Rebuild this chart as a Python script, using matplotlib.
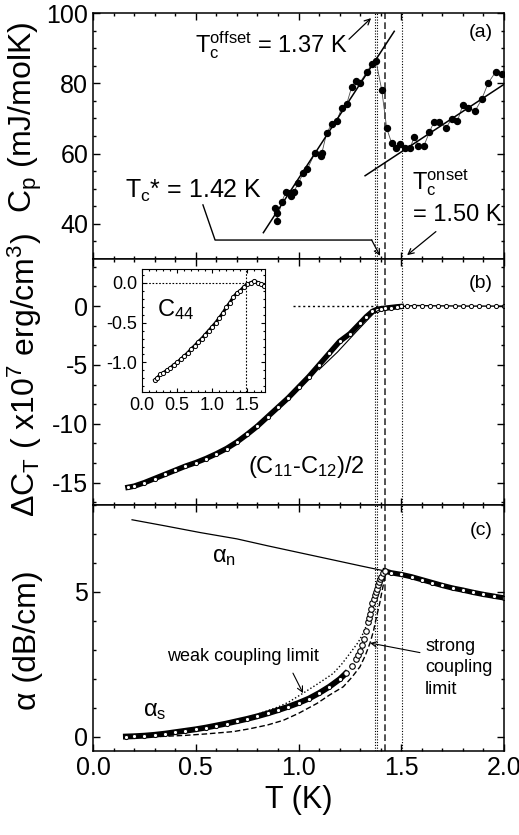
import matplotlib
matplotlib.use("Agg")
import matplotlib.pyplot as plt
from matplotlib.ticker import MultipleLocator, FormatStrFormatter

plt.rcParams['font.family'] = ['Liberation Sans', 'DejaVu Sans']
plt.rcParams['mathtext.fontset'] = 'custom'
plt.rcParams['mathtext.rm'] = 'Liberation Sans'
plt.rcParams['mathtext.it'] = 'Liberation Sans:italic'
plt.rcParams['axes.unicode_minus'] = False

# (a) specific heat
cp_T = [0.887, 0.897, 0.894, 0.918, 0.939, 0.959, 0.962, 0.978, 0.999, 1.024, 1.043,
        1.080, 1.108, 1.114, 1.137, 1.161, 1.186, 1.210, 1.234, 1.259, 1.280, 1.299,
        1.332, 1.356, 1.377, 1.405, 1.429, 1.453, 1.474, 1.494, 1.518, 1.543, 1.564,
        1.583, 1.611, 1.637, 1.659, 1.685, 1.718, 1.745, 1.773, 1.799, 1.826, 1.859,
        1.891, 1.924, 1.959, 1.989]
cp = [44.5, 43.0, 40.7, 46.1, 49.2, 48.8, 47.8, 49.2, 51.6, 54.5, 55.6,
      60.2, 59.2, 60.2, 65.9, 68.3, 69.2, 73.0, 74.0, 79.0, 80.7, 80.2,
      83.2, 85.4, 86.4, 78.1, 67.3, 63.0, 61.6, 62.6, 61.6, 61.6, 64.8,
      62.3, 62.3, 66.1, 69.0, 69.0, 67.3, 69.9, 69.2, 73.7, 73.0, 72.1,
      75.4, 80.2, 83.2, 82.6]
fit1_T = [0.829, 1.466]
fit1 = [37.5, 94.8]
fit2_T = [1.324, 2.005]
fit2 = [53.7, 79.9]

# (b) transverse elastic constant (C11-C12)/2
ct_T = [0.17, 0.20, 0.25, 0.30, 0.35, 0.40, 0.45, 0.50, 0.55, 0.60, 0.65, 0.70, 0.75,
        0.80, 0.85, 0.90, 0.95, 1.00, 1.05, 1.10, 1.15, 1.20, 1.25, 1.30, 1.33, 1.36,
        1.38, 1.40, 1.42, 1.45, 1.48, 1.50, 1.53, 1.56, 1.60, 1.64, 1.68, 1.72, 1.76,
        1.80, 1.84, 1.88, 1.92, 1.96, 2.00]
ct = [-15.4, -15.3, -15.0, -14.65, -14.3, -13.95, -13.6, -13.3, -12.95, -12.55, -12.1,
      -11.55, -10.9, -10.2, -9.4, -8.6, -7.8, -6.9, -6.0, -5.0, -4.0, -3.0, -2.35,
      -1.45, -0.9, -0.45, -0.3, -0.22, -0.18, -0.12, -0.06, -0.03, 0.0, 0.05, 0.04,
      0.03, 0.02, 0.02, 0.01, 0.0, 0.0, 0.0, 0.0, 0.0, 0.0]
ct_fit_T = [1.10, 1.19, 1.28, 1.37, 1.39]
ct_fit = [-5.4, -3.9, -2.2, -0.55, -0.35]

# inset C44
c44_T = [0.18, 0.22, 0.26, 0.30, 0.35, 0.40, 0.45, 0.50, 0.55, 0.60, 0.65, 0.70, 0.75,
         0.80, 0.85, 0.90, 0.95, 1.00, 1.05, 1.10, 1.15, 1.20, 1.25, 1.30, 1.35, 1.40,
         1.45, 1.50, 1.55, 1.60, 1.65, 1.70, 1.73]
c44 = [-1.22, -1.19, -1.15, -1.13, -1.10, -1.07, -1.03, -1.00, -0.96, -0.92, -0.88,
       -0.83, -0.79, -0.74, -0.70, -0.65, -0.60, -0.55, -0.50, -0.44, -0.38, -0.31,
       -0.25, -0.18, -0.13, -0.10, -0.05, -0.02, 0.00, 0.02, 0.00, -0.02, -0.04]

# (c) ultrasonic attenuation
an_T = [0.19, 0.35, 0.52, 0.70, 0.85, 1.00, 1.17, 1.30, 1.42]
an = [7.49, 7.28, 7.05, 6.83, 6.59, 6.36, 6.10, 5.90, 5.72]
aN_T = [1.42, 1.45, 1.50, 1.55, 1.60, 1.65, 1.70, 1.75, 1.80, 1.85, 1.90, 1.95, 2.00]
aN = [5.72, 5.66, 5.60, 5.52, 5.42, 5.32, 5.22, 5.13, 5.06, 4.98, 4.91, 4.85, 4.79]
as_T = [0.16, 0.20, 0.25, 0.30, 0.35, 0.40, 0.45, 0.50, 0.55, 0.60, 0.65, 0.70, 0.75,
        0.80, 0.85, 0.90, 0.95, 1.00, 1.05, 1.10, 1.15, 1.20, 1.23, 1.26, 1.28, 1.29,
        1.30, 1.31, 1.32, 1.33, 1.34, 1.345, 1.35, 1.355, 1.36, 1.365, 1.37, 1.375,
        1.38, 1.385, 1.39, 1.395, 1.40, 1.41, 1.42]
as_ = [0.00, 0.01, 0.03, 0.06, 0.10, 0.15, 0.20, 0.25, 0.31, 0.38, 0.45, 0.53, 0.61,
       0.70, 0.80, 0.91, 1.03, 1.16, 1.31, 1.50, 1.72, 1.98, 2.18, 2.45, 2.68, 2.80,
       2.95, 3.15, 3.38, 3.65, 3.95, 4.10, 4.25, 4.42, 4.60, 4.75, 4.90, 5.00,
       5.10, 5.22, 5.35, 5.45, 5.52, 5.64, 5.72]
weak_T = [0.50, 0.60, 0.70, 0.80, 0.90, 0.95, 1.023, 1.10, 1.169, 1.21, 1.251, 1.29,
          1.315, 1.34, 1.356, 1.38, 1.397]
weak = [0.22, 0.38, 0.56, 0.77, 1.02, 1.18, 1.50, 1.85, 2.18, 2.50, 2.88, 3.25, 3.57,
        4.00, 4.38, 5.08, 5.54]
strong_T = [0.326, 0.45, 0.55, 0.683, 0.764, 0.85, 0.926, 1.0, 1.089, 1.15, 1.218,
            1.26, 1.299, 1.325, 1.348, 1.365, 1.38, 1.395, 1.405, 1.421, 1.425]
strong = [0.0, 0.04, 0.09, 0.17, 0.27, 0.40, 0.56, 0.80, 1.14, 1.43, 1.72, 2.05, 2.41,
          2.8, 3.23, 3.65, 4.15, 4.6, 4.97, 5.54, 5.7]

tc_dotted = [1.372, 1.383, 1.502]
tc_dashed = 1.421

fig = plt.figure(figsize=(5.19, 8.35), dpi=100)
L, W, H = 0.1792, 0.7919, 0.2946
ax_a = fig.add_axes([L, 0.6898, W, H])
ax_b = fig.add_axes([L, 0.3952, W, H])
ax_c = fig.add_axes([L, 0.1006, W, H])
ins = fig.add_axes([0.2736, 0.5305, 0.237, 0.1473])

for ax in (ax_a, ax_b, ax_c):
    ax.set_xlim(0, 2.0)
    ax.xaxis.set_major_locator(MultipleLocator(0.5))
    ax.xaxis.set_minor_locator(MultipleLocator(0.1))
    ax.tick_params(which='both', direction='in', top=True, right=True, labelsize=18, width=1)
    ax.tick_params(which='major', length=5)
    ax.tick_params(which='minor', length=2.5)
    for s in ax.spines.values():
        s.set_linewidth(1.1)
    for x in tc_dotted:
        ax.axvline(x, color='k', ls=(0, (1, 1.5)), lw=0.8)
    ax.axvline(tc_dashed, color='0.2', ls=(0, (4, 2)), lw=1.2)

ax_a.tick_params(labelbottom=False)
ax_b.tick_params(labelbottom=False)

# ---- (a)
ax_a.plot(cp_T, cp, '-', color='0.3', lw=0.6)
ax_a.plot(cp_T, cp, 'o', color='k', ms=4.3)
ax_a.plot(fit1_T, fit1, 'k-', lw=1.1)
ax_a.plot(fit2_T, fit2, 'k-', lw=1.1)
ax_a.set_ylim(30, 100)
ax_a.yaxis.set_major_locator(MultipleLocator(20))
ax_a.yaxis.set_minor_locator(MultipleLocator(5))
ax_a.set_ylabel(r'C$_\mathrm{p}$ (mJ/molK)', fontsize=23)
ax_a.yaxis.set_label_coords(-0.119, 0.575)
ax_a.text(0.973, 0.919, '(a)', transform=ax_a.transAxes, fontsize=14, ha='right', va='center')
ax_a.text(0.496, 88.9, r'$\mathrm{T_c^{offset}}$ = 1.37 K', fontsize=17, va='baseline')
ax_a.annotate('', xy=(1.363, 99.1), xytext=(1.236, 92.0),
              arrowprops=dict(arrowstyle='->', lw=0.9, color='k'))
ax_a.text(0.156, 47.4, r'$\mathrm{T_c}$* = 1.42 K', fontsize=18, va='baseline')
ax_a.plot([0.535, 0.594, 1.356], [45.4, 35.4, 35.4], 'k-', lw=1.0)
ax_a.annotate('', xy=(1.397, 30.9), xytext=(1.356, 35.4),
              arrowprops=dict(arrowstyle='->', lw=0.9, color='k', shrinkA=0, shrinkB=0))
ax_a.text(1.552, 49.7, r'$\mathrm{T_c^{onset}}$', fontsize=17, va='baseline')
ax_a.text(1.557, 40.7, '= 1.50 K', fontsize=17, va='baseline')
ax_a.annotate('', xy=(1.518, 30.6), xytext=(1.679, 38.3),
              arrowprops=dict(arrowstyle='->', lw=0.9, color='k'))

# ---- (b)
ax_b.plot(ct_T[:32], ct[:32], 'k-', lw=3.9)
ax_b.plot(ct_T[31:], ct[31:], 'k-', lw=1.0)
ax_b.plot(ct_T, ct, 'o', mfc='white', mec='k', ms=3.0, mew=0.7)
ax_b.plot(ct_fit_T, ct_fit, 'k-', lw=0.8)
ax_b.plot([0.975, 1.40], [0, 0], 'k', ls=(0, (1.5, 2)), lw=1.0)
ax_b.set_ylim(-16.9, 4)
ax_b.yaxis.set_major_locator(MultipleLocator(5))
ax_b.yaxis.set_minor_locator(MultipleLocator(5 / 3))
ax_b.set_ylabel(r'ΔC$_\mathrm{T}$ ( x10$^\mathrm{7}$ erg/cm$^\mathrm{3}$)', fontsize=23)
ax_b.yaxis.set_label_coords(-0.119, 0.528)
ax_b.text(0.973, 0.902, '(b)', transform=ax_b.transAxes, fontsize=14, ha='right', va='center')
ax_b.text(0.754, -13.7, r'(C$_\mathrm{11}$-C$_\mathrm{12}$)/2', fontsize=17, va='center')

# inset
ins.plot(c44_T, c44, 'k-', lw=2.2)
ins.plot(c44_T, c44, 'o', mfc='white', mec='k', ms=3.0, mew=0.7)
ins.plot([0, 1.48], [0, 0], 'k', ls=(0, (1.5, 1.5)), lw=0.8)
ins.axvline(1.48, color='k', ls=(0, (1.5, 1.5)), lw=0.8)
ins.set_xlim(0, 1.75)
ins.set_ylim(-1.37, 0.17)
ins.xaxis.set_major_locator(MultipleLocator(0.5))
ins.xaxis.set_minor_locator(MultipleLocator(0.1))
ins.yaxis.set_major_locator(MultipleLocator(0.5))
ins.yaxis.set_minor_locator(MultipleLocator(0.1))
ins.xaxis.set_major_formatter(FormatStrFormatter('%.1f'))
ins.yaxis.set_major_formatter(FormatStrFormatter('%.1f'))
ins.tick_params(which='both', direction='in', top=True, right=True, labelsize=13, width=0.8)
ins.tick_params(which='major', length=3)
ins.tick_params(which='minor', length=1.5)
ins.text(0.22, -0.425, r'C$_\mathrm{44}$', fontsize=17, va='baseline')

# ---- (c)
ax_c.plot(an_T, an, 'k-', lw=0.9)
ax_c.plot(aN_T, aN, 'k-', lw=3.8)
ax_c.plot(aN_T, aN, 'o', mfc='white', mec='k', ms=3.0, mew=0.7)
ax_c.plot(weak_T, weak, 'k', ls=(0, (1, 1.6)), lw=1.0)
ax_c.plot(strong_T, strong, 'k', ls=(0, (4, 2)), lw=1.0)
ax_c.plot(as_T[:23], as_[:23], 'k-', lw=4.2)
ax_c.plot(as_T[:23], as_[:23], 'o', mfc='white', mec='k', ms=3.0, mew=0.7)
ax_c.plot(as_T[22:], as_[22:], 'o', mfc='white', mec='k', ms=4.0, mew=0.8)
ax_c.set_ylim(-0.5, 8.0)
ax_c.yaxis.set_major_locator(MultipleLocator(5))
ax_c.yaxis.set_minor_locator(MultipleLocator(1))
ax_c.xaxis.set_major_formatter(FormatStrFormatter('%.1f'))
ax_c.set_ylabel('α (dB/cm)', fontsize=23)
ax_c.yaxis.set_label_coords(-0.122, 0.451)
ax_c.set_xlabel('T (K)', fontsize=22)
ax_c.text(0.973, 0.898, '(c)', transform=ax_c.transAxes, fontsize=14, ha='right', va='center')
ax_c.text(0.578, 6.01, r'α$_\mathrm{n}$', fontsize=17, va='baseline')
ax_c.text(0.245, 0.70, r'α$_\mathrm{s}$', fontsize=17, va='baseline')
ax_c.text(0.36, 2.75, 'weak coupling limit', fontsize=13, va='center')
ax_c.annotate('', xy=(1.022, 1.5), xytext=(0.973, 2.19),
              arrowprops=dict(arrowstyle='->', lw=0.8, color='k', shrinkA=0, shrinkB=0))
ax_c.text(1.616, 2.37, 'strong\ncoupling\nlimit', fontsize=13, va='center', linespacing=1.35)
ax_c.annotate('', xy=(1.348, 3.23), xytext=(1.591, 2.9),
              arrowprops=dict(arrowstyle='->', lw=0.8, color='k', shrinkA=0, shrinkB=0))

fig.savefig('out.png', dpi=100)
